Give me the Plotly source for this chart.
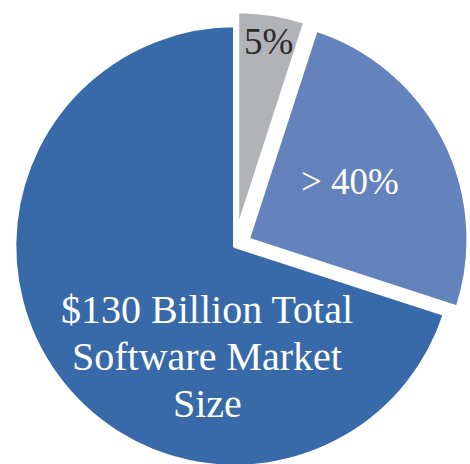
import plotly.graph_objects as go

# Market share breakdown
segments = ["Other", "Growth segment", "Total software market"]
shares = [5, 25, 70]
slice_colors = ["#B1B3B6", "#6482BB", "#3869A9"]
pulls = [0.065, 0.065, 0.0]

growth_label = "> 40%"
total_label_lines = ["$130 Billion Total", "Software Market", "Size"]

W, H = 470, 492
FONT = "Liberation Serif, Times New Roman, serif"


def px(x, y):
    """Pixel position -> paper coordinates."""
    return x / W, 1 - y / H


fig = go.Figure(
    go.Pie(
        labels=segments,
        values=shares,
        sort=False,
        direction="clockwise",
        rotation=0,
        pull=pulls,
        marker=dict(colors=slice_colors, line=dict(color="white", width=4)),
        textinfo="none",
        hoverinfo="skip",
        showlegend=False,
    )
)

annotations = []
x, y = px(268, 41)
annotations.append(dict(x=x, y=y, text=f"{shares[0]}%",
                        font=dict(family=FONT, size=37, color="#2B2B2B")))
x, y = px(350, 181)
annotations.append(dict(x=x, y=y, text=growth_label,
                        font=dict(family=FONT, size=37, color="white")))
for i, line in enumerate(total_label_lines):
    x, y = px(207, 309 + 47 * i)
    annotations.append(dict(x=x, y=y, text=line,
                            font=dict(family=FONT, size=40, color="white")))

for a in annotations:
    a.update(xref="paper", yref="paper", showarrow=False,
             xanchor="center", yanchor="middle")

fig.update_layout(
    width=W,
    height=H,
    margin=dict(l=0, r=0, t=0, b=0),
    paper_bgcolor="white",
    plot_bgcolor="white",
    annotations=annotations,
)

fig.write_html("out.html")
